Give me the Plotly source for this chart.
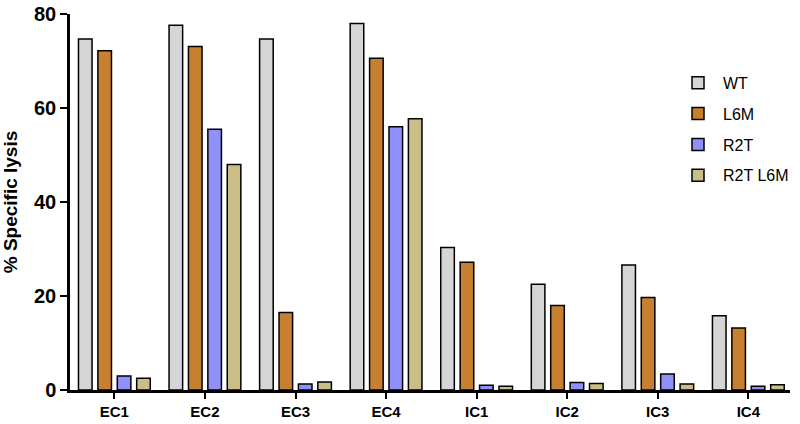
import plotly.graph_objects as go

categories = ["EC1", "EC2", "EC3", "EC4", "IC1", "IC2", "IC3", "IC4"]
wt = [74.7, 77.6, 74.7, 78.0, 30.3, 22.5, 26.6, 15.8]
l6m = [72.2, 73.1, 16.5, 70.6, 27.2, 18.0, 19.7, 13.2]
r2t = [3.0, 55.5, 1.3, 56.0, 1.0, 1.6, 3.4, 0.8]
r2tl6m = [2.5, 48.0, 1.7, 57.7, 0.8, 1.4, 1.3, 1.1]

series = [("WT", wt, "#D5D5D5"), ("L6M", l6m, "#C6802F"),
          ("R2T", r2t, "#9090FA"), ("R2TL6M", r2tl6m, "#C9BE88")]
legend_names = {"R2TL6M": "R2T L6M"}

fig = go.Figure()
for name, vals, color in series:
    fig.add_trace(go.Bar(
        x=categories, y=vals, name=legend_names.get(name, name), legendgroup=name,
        marker=dict(color=color, line=dict(color="black", width=1.5)),
    ))

font = "Arial, Liberation Sans, sans-serif"
fig.update_layout(
    width=800, height=424,
    margin=dict(l=70, r=10, t=14, b=34, autoexpand=False),
    paper_bgcolor="white", plot_bgcolor="white",
    barmode="group", bargap=0.143, bargroupgap=0.30,
    font=dict(family=font, color="black"),
    showlegend=True,
    legend=dict(x=0.8375, y=0.862, xanchor="left", yanchor="top",
                font=dict(size=16, family=font), bgcolor="rgba(0,0,0,0)",
                tracegroupgap=7, itemwidth=40),
    xaxis=dict(range=[-0.49, 7.46], showline=True, linecolor="black", linewidth=2.5,
               ticks="outside", ticklen=6, tickwidth=2, tickcolor="black", automargin=False,
               tickfont=dict(size=15, family=font, weight="bold"), showgrid=False),
    yaxis=dict(range=[0, 80], tickvals=[0, 20, 40, 60, 80], showline=True,
               linecolor="black", linewidth=2.5, ticks="outside", ticklen=7,
               tickwidth=2, tickcolor="black", showgrid=False, zeroline=False, automargin=False,
               tickfont=dict(size=20, family=font, weight="bold"),
               title=dict(text="% Specific lysis", font=dict(size=19, family=font, weight="bold"),
                          standoff=13)),
)

fig.write_html("out.html", config={"displayModeBar": False},
               post_script="document.body.style.margin='0';document.body.style.overflow='hidden';")
